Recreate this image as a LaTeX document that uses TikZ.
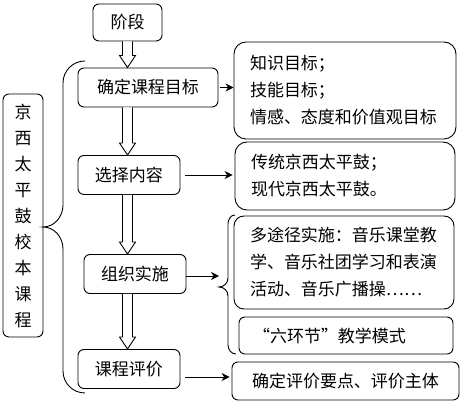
\documentclass[tikz,border=0pt]{standalone}
\usepackage{fontspec}
\newfontfamily\cjk{Noto Sans CJK SC}
\usetikzlibrary{arrows.meta, calc}

% hollow double-line arrow, kept on the axis of the top box
\newcommand\hollowarrow[2]{%
    \path (stage.center |- #1.south) coordinate (ha-s)
          (stage.center |- #2.north) coordinate (ha-t);
    \draw [fill=white] ($(ha-s)+(-5,0)$) -- ($(ha-t)+(-5,12)$) -- ($(ha-t)+(-8,12)$)
        -- (ha-t) -- ($(ha-t)+(8,12)$) -- ($(ha-t)+(5,12)$) -- ($(ha-s)+(5,0)$);}

\begin{document}
\begin{tikzpicture}[x=1pt, y=1pt, line width=0.9pt,
    font=\cjk\fontsize{17}{27}\selectfont,
    stepbox/.style={draw, rounded corners=6pt, minimum height=39pt, inner sep=0pt},
    notebox/.style={draw, rounded corners=12pt, align=left, inner xsep=16pt, inner ysep=0pt},
    plainbox/.style={draw, rounded corners=6pt, inner sep=0pt},
    conn/.style={-{Stealth[length=8pt, width=8pt]}}]
    \useasboundingbox (0,0) rectangle (467,404);

    % left column
    \node [plainbox, minimum width=40pt, minimum height=243pt, align=center,
        font=\cjk\fontsize{17}{26}\selectfont] (course) at (23,188.5)
        {京\\西\\太\\平\\鼓\\校\\本\\课\\程};
    \node [stepbox, minimum width=69pt, minimum height=37pt] (stage) at (127.5,381.5) {阶段};
    \node [stepbox, minimum width=140pt] (goal) at (148,316.5) {确定课程目标};
    \node [stepbox, minimum width=102pt] (content) at (129,229) {选择内容};
    \node [stepbox, minimum width=102pt] (organize) at (135,130) {组织实施};
    \node [stepbox, minimum width=102pt] (evaluate) at (129,35) {课程评价};

    % right column
    \node [notebox, text width=190pt, minimum height=97pt] (aims) at (345,313.5)
        {知识目标；\\技能目标；\\情感、态度和价值观目标};
    \node [notebox, text width=188pt, minimum height=68pt] (drums) at (345,228)
        {传统京西太平鼓；\\现代京西太平鼓。};
    \node [notebox, rounded corners=10pt, text width=188pt, minimum height=93pt] (ways) at (344,141.5)
        {多途径实施：音乐课堂教\\学、音乐社团学习和表演\\活动、音乐广播操……};
    \node [plainbox, minimum width=214pt, minimum height=37pt, inner xsep=14pt,
        text width=186pt, align=left] (mode) at (346,68.5) {“六环节”教学模式};
    \node [plainbox, minimum width=227pt, minimum height=38pt] (points) at (345.5,23)
        {确定评价要点、评价主体};

    % braces
    \draw (85,343) to [out=180, in=90] (63,321) -- (63,199)
        to [out=-90, in=0] (43,177) to [out=0, in=90] (63,155)
        -- (63,33) to [out=-90, in=180] (85,11);
    \draw (235,189) to [out=180, in=90] (228,180) -- (228,126)
        to [out=-90, in=0] (219,117) to [out=0, in=90] (228,108)
        -- (228,59) to [out=-90, in=180] (236,50);
    \coordinate (bracetip) at (219,128);
    \coordinate (evalout) at (185,27);

    % hollow arrows
    \hollowarrow{stage}{goal}
    \hollowarrow{goal}{content}
    \hollowarrow{content}{organize}
    \hollowarrow{organize}{evaluate}

    % connectors
    \draw [conn, shorten <=2pt] (goal.east) -- (goal.east -| aims.west);
    \draw [conn, shorten <=5pt, shorten >=2pt] (content.east) -- (content.east -| drums.west);
    \draw [conn] (organize.east |- bracetip) -- (bracetip);
    \draw [conn, shorten >=2pt] (evalout) -- (evalout -| points.west);
\end{tikzpicture}
\end{document}
